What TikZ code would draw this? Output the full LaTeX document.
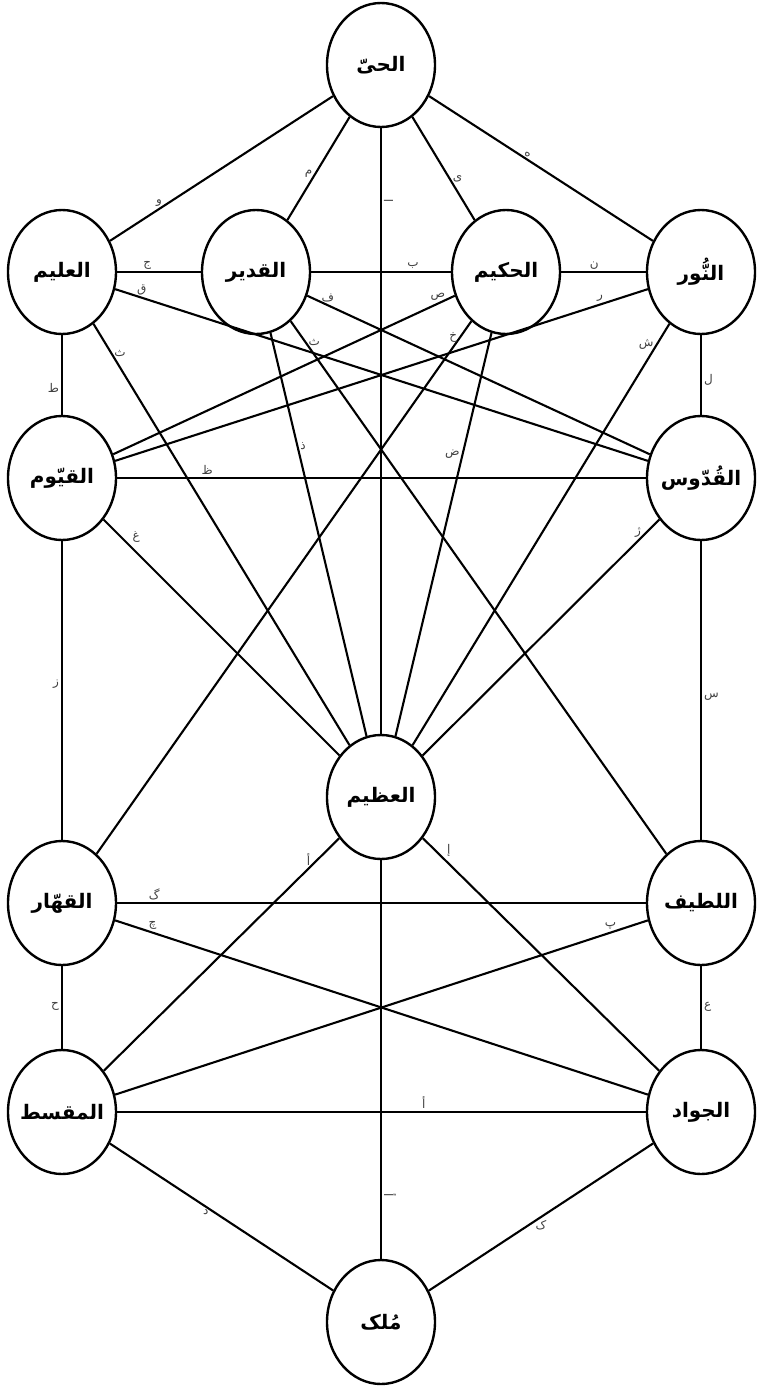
\documentclass[tikz,border=0pt]{standalone}
\usepackage{fontspec}
\usepackage{tikz}
\usetikzlibrary{shapes,positioning}
\newfontfamily\arabicfont[Script=Arabic]{DejaVu Sans}
\TeXXeTstate=1
\newcommand{\arb}[1]{{\arabicfont\beginR #1\endR}}

\begin{document}
\begin{tikzpicture}[node distance=206pt]
\tikzstyle{sefira} = [ellipse, draw, fill=white, line width=2.4pt, minimum width=108pt, minimum height=124pt, inner ysep=0pt, inner xsep=-6pt, on grid, font=\fontsize{20}{23}\selectfont\bfseries]
\tikzstyle{link} = [line width=2.1pt]
\tikzstyle{letter} = [font=\fontsize{12}{13}\selectfont, text=black!75, inner sep=2pt]

\useasboundingbox (-381pt,65pt) rectangle (381pt,-1321pt);

\node[sefira] (hay) at (0,0) {\arb{الحىّ}};
\node[sefira, below left=207pt and 125pt of hay] (qadir) {\arb{القدير}};
\node[sefira, below right=207pt and 125pt of hay] (hakim) {\arb{الحكيم}};
\node[sefira, left=194pt of qadir] (alim) {\arb{العليم}};
\node[sefira, right=195pt of hakim] (nur) {\arb{النُّور}};
\node[sefira, below=of alim] (qayyum) {\arb{القيّوم}};
\node[sefira, below=of nur] (quddus) {\arb{القُدّوس}};
\node[sefira, below=732pt of hay] (azim) {\arb{العظيم}};
\node[sefira, below=425pt of qayyum] (qahhar) {\arb{القهّار}};
\node[sefira, below=425pt of quddus] (latif) {\arb{اللطيف}};
\node[sefira, below=209pt of qahhar] (muqsit) {\arb{المقسط}};
\node[sefira, below=209pt of latif] (jawad) {\arb{الجواد}};
\node[sefira, below=525pt of azim] (malik) {\arb{مُلک}};

% upper paths
\draw[link] (hay) -- node[letter, pos=0.78, above] {\arb{و}} (alim);
\draw[link] (hay) -- node[letter, pos=0.55, left] {\arb{م}} (qadir);
\draw[link] (hay) -- node[letter, pos=0.12, rotate=90, anchor=north] {\arb{ا}} (azim);
\draw[link] (hay) -- node[letter, pos=0.60, right] {\arb{ی}} (hakim);
\draw[link] (hay) -- node[letter, pos=0.44, above] {\arb{ه}} (nur);
\draw[link] (alim) -- node[letter, pos=0.36, above] {\arb{ج}} (qadir);
\draw[link] (alim) -- node[letter, pos=0.05, above] {\arb{ق}} (quddus);
\draw[link] (alim) -- node[letter, pos=0.66, left] {\arb{ط}} (qayyum);
\draw[link] (alim) -- node[letter, pos=0.07, right] {\arb{ث}} (azim);
\draw[link] (qadir) -- node[letter, pos=0.73, above] {\arb{ب}} (hakim);
\draw[link] (qadir) -- node[letter, pos=0.06, above] {\arb{ف}} (quddus);
\draw[link] (qadir) -- node[letter, pos=0.04, right] {\arb{ث}} (latif);
\draw[link] (qadir) -- node[letter, pos=0.28, right] {\arb{ذ}} (azim);
\draw[link] (hakim) -- node[letter, pos=0.39, above] {\arb{ن}} (nur);
\draw[link] (hakim) -- node[letter, pos=0.05, above] {\arb{ص}} (qayyum);
\draw[link] (hakim) -- node[letter, pos=0.03, left] {\arb{خ}} (qahhar);
\draw[link] (hakim) -- node[letter, pos=0.30, left] {\arb{ض}} (azim);
\draw[link] (nur) -- node[letter, pos=0.09, above] {\arb{ر}} (qayyum);
\draw[link] (nur) -- node[letter, pos=0.05, left] {\arb{ش}} (azim);
\draw[link] (nur) -- node[letter, pos=0.56, right] {\arb{ل}} (quddus);
\draw[link] (qayyum) -- node[letter, pos=0.17, above] {\arb{ظ}} (quddus);
\draw[link] (qayyum) -- node[letter, pos=0.11, above right] {\arb{غ}} (azim);
\draw[link] (qayyum) -- node[letter, pos=0.48, left] {\arb{ز}} (qahhar);
\draw[link] (quddus) -- node[letter, pos=0.09, above] {\arb{ژ}} (azim);
\draw[link] (quddus) -- node[letter, pos=0.52, right] {\arb{س}} (latif);

% lower paths
\draw[link] (qahhar) -- node[letter, pos=0.07, above] {\arb{گ}} (latif);
\draw[link] (qahhar) -- node[letter, pos=0.07, above] {\arb{چ}} (jawad);
\draw[link] (qahhar) -- node[letter, pos=0.49, left] {\arb{ح}} (muqsit);
\draw[link] (muqsit) -- node[letter, pos=0.87, above] {\arb{أ}} (azim);
\draw[link] (azim) -- node[letter, pos=0.09, above right] {\arb{إ}} (jawad);
\draw[link] (muqsit) -- node[letter, pos=0.93, above] {\arb{پ}} (latif);
\draw[link] (latif) -- node[letter, pos=0.49, right] {\arb{ع}} (jawad);
\draw[link] (muqsit) -- node[letter, pos=0.58, above] {\arb{أ}} (jawad);
\draw[link] (azim) -- node[letter, pos=0.84, rotate=-90, anchor=south] {\arb{أ}} (malik);
\draw[link] (muqsit) -- node[letter, pos=0.43, below] {\arb{د}} (malik);
\draw[link] (jawad) -- node[letter, pos=0.50, below] {\arb{ک}} (malik);
\end{tikzpicture}
\end{document}
